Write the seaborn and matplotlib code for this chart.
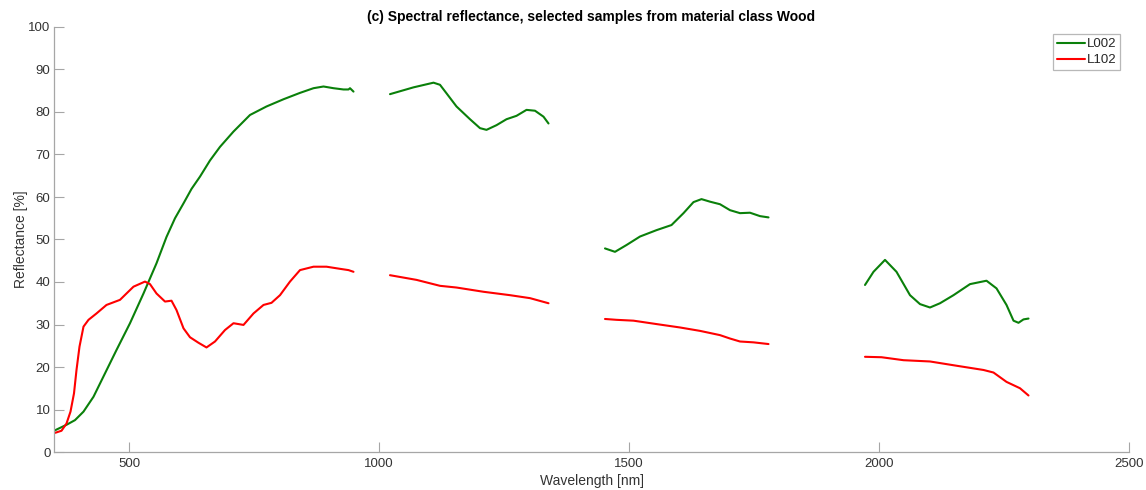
import numpy as np
import pandas as pd
import matplotlib
matplotlib.use("Agg")
import matplotlib.pyplot as plt
import seaborn as sns

# ---- data ----
# L002 (green), four spectral segments
l002_wl_1 = [350, 375, 392, 409, 429, 452, 475, 502, 529, 555, 575, 592, 609, 625, 642, 662, 682, 709, 742, 775,
             809, 842, 869, 889, 909, 929, 939, 942, 949]
l002_r_1 = [5.0, 6.4, 7.5, 9.5, 13.0, 18.5, 24.0, 30.3, 37.3, 44.4, 50.6, 55.0, 58.5, 61.9, 64.8, 68.6, 71.8, 75.4,
            79.3, 81.3, 83.0, 84.5, 85.6, 86.0, 85.6, 85.3, 85.3, 85.6, 84.8]
l002_wl_2 = [1022, 1069, 1109, 1122, 1135, 1155, 1182, 1202, 1215, 1235, 1255, 1275, 1295, 1312, 1329, 1339]
l002_r_2 = [84.2, 85.8, 86.9, 86.4, 84.4, 81.3, 78.3, 76.2, 75.8, 76.9, 78.3, 79.1, 80.5, 80.3, 78.9, 77.3]
l002_wl_3 = [1452, 1472, 1495, 1522, 1555, 1585, 1609, 1629, 1645, 1662, 1682, 1702, 1722, 1742, 1762, 1779]
l002_r_3 = [47.9, 47.1, 48.7, 50.7, 52.2, 53.4, 56.2, 58.8, 59.5, 58.9, 58.3, 56.9, 56.2, 56.3, 55.5, 55.2]
l002_wl_4 = [1972, 1989, 2012, 2035, 2062, 2082, 2102, 2122, 2149, 2182, 2215, 2235, 2255, 2269, 2279, 2289, 2299]
l002_r_4 = [39.3, 42.4, 45.2, 42.4, 36.9, 34.8, 34.0, 35.0, 36.9, 39.5, 40.3, 38.5, 34.6, 30.9, 30.4, 31.2, 31.4]

# L102 (red), four spectral segments
l102_wl_1 = [352, 365, 375, 383, 390, 395, 401, 409, 419, 435, 455, 482, 495, 509, 532, 542, 555, 572, 585, 595,
             609, 622, 639, 655, 672, 692, 709, 729, 749, 769, 785, 802, 822, 842, 869, 895, 922, 939, 949]
l102_r_1 = [4.5, 5.0, 6.7, 9.5, 13.8, 19.3, 24.8, 29.5, 31.1, 32.6, 34.6, 35.8, 37.3, 38.9, 40.1, 39.5, 37.3, 35.4,
            35.6, 33.4, 29.1, 27.0, 25.7, 24.6, 26.0, 28.7, 30.3, 29.9, 32.6, 34.6, 35.1, 36.9, 40.1, 42.8, 43.6,
            43.6, 43.1, 42.8, 42.4]
l102_wl_2 = [1022, 1075, 1122, 1155, 1209, 1262, 1302, 1339]
l102_r_2 = [41.6, 40.5, 39.1, 38.7, 37.7, 36.9, 36.2, 35.0]
l102_wl_3 = [1452, 1475, 1509, 1555, 1602, 1642, 1682, 1702, 1722, 1749, 1779]
l102_r_3 = [31.3, 31.1, 30.9, 30.1, 29.3, 28.5, 27.5, 26.7, 26.0, 25.8, 25.4]
l102_wl_4 = [1972, 2005, 2049, 2102, 2155, 2209, 2229, 2255, 2282, 2299]
l102_r_4 = [22.4, 22.3, 21.6, 21.3, 20.3, 19.3, 18.7, 16.5, 15.0, 13.3]

samples = ["L002", "L102"]
x_ticks = [500, 1000, 1500, 2000, 2500]
y_ticks = [0, 10, 20, 30, 40, 50, 60, 70, 80, 90, 100]

rows = []
segs = {
    "L002": [(l002_wl_1, l002_r_1), (l002_wl_2, l002_r_2), (l002_wl_3, l002_r_3), (l002_wl_4, l002_r_4)],
    "L102": [(l102_wl_1, l102_r_1), (l102_wl_2, l102_r_2), (l102_wl_3, l102_r_3), (l102_wl_4, l102_r_4)],
}
for s in samples:
    for i, (wl, r) in enumerate(segs[s]):
        for w, v in zip(wl, r):
            rows.append({"sample": s, "segment": i, "wl": w, "refl": v})
df = pd.DataFrame(rows)

sns.set_style("white")
plt.rcParams["font.family"] = ["Liberation Sans", "DejaVu Sans"]

fig = plt.figure(figsize=(11.46, 4.90), dpi=100)
ax = fig.add_axes([54 / 1146, 1 - 452 / 490, (1129 - 54) / 1146, (452 - 27) / 490])

palette = {"L002": "#0a800a", "L102": "#ff0000"}
sns.lineplot(data=df, x="wl", y="refl", hue="sample", units="segment", estimator=None,
             palette=palette, hue_order=samples, linewidth=1.5, ax=ax, sort=False)

ax.set_xlim(350, 2500)
ax.set_ylim(0, 100)
ax.set_xticks(x_ticks)
ax.set_yticks(y_ticks)
ax.tick_params(bottom=True, left=True, top=False, right=False, direction="in", length=7, width=0.8,
               color="#a6a6a6", labelcolor="#333333", labelsize=9.5, pad=2.5)
ax.tick_params(axis="x", pad=4)
for side in ["top", "right"]:
    ax.spines[side].set_visible(False)
for side in ["left", "bottom"]:
    ax.spines[side].set_color("#a6a6a6")
    ax.spines[side].set_linewidth(0.9)
ax.set_xlabel("Wavelength [nm]", fontsize=10, color="#333333", labelpad=3)
ax.set_ylabel("Reflectance [%]", fontsize=10, color="#333333", labelpad=0)
ax.set_title("(c) Spectral reflectance, selected samples from material class Wood",
             fontsize=10, fontweight="bold", color="black", pad=4)

leg = ax.legend(loc="upper right", bbox_to_anchor=(0.9916, 0.9835), frameon=True, fancybox=False,
                fontsize=9.5, handlelength=2.1, handletextpad=0.1, borderpad=0.3, labelspacing=0.3,
                borderaxespad=0.0)
leg.get_frame().set_edgecolor("#a6a6a6")
leg.get_frame().set_linewidth(0.9)
for t in leg.get_texts():
    t.set_color("#262626")

fig.savefig("out.png", dpi=100)
